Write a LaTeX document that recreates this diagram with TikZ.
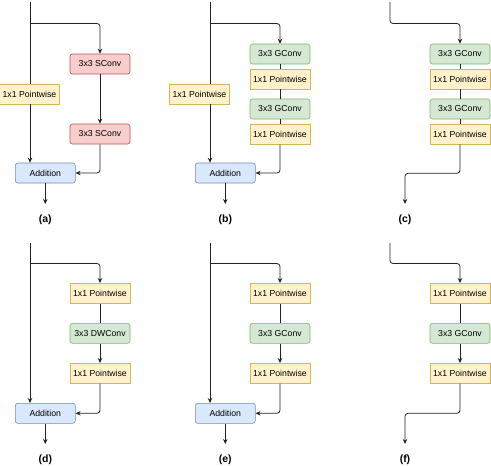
\documentclass[tikz,border=0pt]{standalone}
\usepackage{fontspec}
\setmainfont{Liberation Sans}
\usetikzlibrary{arrows.meta}
\definecolor{ylwF}{HTML}{FFF2CC}\definecolor{ylwD}{HTML}{D6B656}
\definecolor{redF}{HTML}{F8CECC}\definecolor{redD}{HTML}{B85450}
\definecolor{grnF}{HTML}{D5E8D4}\definecolor{grnD}{HTML}{82B366}
\definecolor{bluF}{HTML}{DAE8FC}\definecolor{bluD}{HTML}{6C8EBF}
\definecolor{lineC}{HTML}{222222}
\tikzset{
  blk/.style={minimum width=60pt,minimum height=20pt,inner sep=0pt,font=\fontsize{8.7}{10}\selectfont,line width=0.6pt},
  pw/.style={blk,fill=ylwF,draw=ylwD},
  sc/.style={blk,fill=redF,draw=redD,rounded corners=2.5pt},
  gc/.style={blk,fill=grnF,draw=grnD,rounded corners=2.5pt},
  ad/.style={blk,fill=bluF,draw=bluD,rounded corners=2.5pt},
  lbl/.style={font=\bfseries\fontsize{10.5}{12}\selectfont,inner sep=0pt},
  conn/.style={draw=lineC,line width=0.8pt,rounded corners=3pt},
  arr/.style={conn,-{Stealth[length=5pt,width=4.5pt]}},
}
\begin{document}
\begin{tikzpicture}[x=1pt,y=-1pt]
\useasboundingbox (0,0) rectangle (491,466);
% ---------- (a) ----------
\coordinate (aTop) at (30,2);
\coordinate (aSplit) at (30,23.5);
\node[pw] (aLP) at (29.5,94) {1x1 Pointwise};
\node[sc] (aS1) at (100,64) {3x3 SConv};
\node[sc] (aS2) at (100,134) {3x3 SConv};
\node[ad] (aAdd) at (45.3,173) {Addition};
\coordinate (aOut) at (45.3,204);
\draw[conn] (aTop) -- (aLP.north -| aTop);
\draw[arr] (aLP.south -| aTop) -- (aAdd.north -| aTop);
\draw[arr] (aSplit) -| (aS1.north);
\draw[arr] (aS1) -- (aS2);
\draw[arr] (aS2.south) |- (aAdd.east);
\draw[arr] (aAdd) -- (aOut);
\node[lbl] (la) at (45.3,220) {(a)};
% ---------- (b) ----------
\coordinate (bTop) at (210,2);
\coordinate (bSplit) at (210,23.5);
\node[pw] (bLP) at (199.5,94) {1x1 Pointwise};
\node[gc] (bG1) at (280,54) {3x3 GConv};
\node[pw] (bP1) at (280,79) {1x1 Pointwise};
\node[gc] (bG2) at (280,109) {3x3 GConv};
\node[pw] (bP2) at (280,134) {1x1 Pointwise};
\node[ad] (bAdd) at (225.3,173) {Addition};
\coordinate (bOut) at (225.3,204);
\draw[conn] (bTop) -- (bLP.north -| bTop);
\draw[arr] (bLP.south -| bTop) -- (bAdd.north -| bTop);
\draw[arr] (bSplit) -| (bG1.north);
\draw[conn] (bG1) -- (bP1);
\draw[conn] (bP1) -- (bG2);
\draw[conn] (bG2) -- (bP2);
\draw[arr] (bP2.south) |- (bAdd.east);
\draw[arr] (bAdd) -- (bOut);
\node[lbl] (lb) at (225.3,220) {(b)};
% ---------- (c) ----------
\coordinate (cTop) at (390,2);
\node[gc] (cG1) at (460,54) {3x3 GConv};
\node[pw] (cP1) at (460,79) {1x1 Pointwise};
\node[gc] (cG2) at (460,109) {3x3 GConv};
\node[pw] (cP2) at (460,134) {1x1 Pointwise};
\coordinate (cOut) at (405,204);
\draw[arr] (cTop) |- (420,23.5) -| (cG1.north);
\draw[conn] (cG1) -- (cP1);
\draw[conn] (cP1) -- (cG2);
\draw[conn] (cG2) -- (cP2);
\draw[arr] (cP2.south) |- (430,173.3) -| (cOut);
\node[lbl] (lc) at (405,220) {(c)};
% ---------- (d) ----------
\coordinate (dTop) at (30,243);
\coordinate (dSplit) at (30,263.5);
\node[pw] (dP1) at (100,293.3) {1x1 Pointwise};
\node[gc] (dG) at (100,333.3) {3x3 DWConv};
\node[pw] (dP2) at (100,373.3) {1x1 Pointwise};
\node[ad] (dAdd) at (45.3,413.3) {Addition};
\coordinate (dOut) at (45.3,444);
\draw[arr] (dTop) -- (dAdd.north -| dTop);
\draw[arr] (dSplit) -| (dP1.north);
\draw[conn] (dP1) -- (dG);
\draw[arr] (dG) -- (dP2);
\draw[arr] (dP2.south) |- (dAdd.east);
\draw[arr] (dAdd) -- (dOut);
\node[lbl] (ld) at (45.3,460) {(d)};
% ---------- (e) ----------
\coordinate (eTop) at (210,243);
\coordinate (eSplit) at (210,263.5);
\node[pw] (eP1) at (280,293.3) {1x1 Pointwise};
\node[gc] (eG) at (280,333.3) {3x3 GConv};
\node[pw] (eP2) at (280,373.3) {1x1 Pointwise};
\node[ad] (eAdd) at (225.3,413.3) {Addition};
\coordinate (eOut) at (225.3,444);
\draw[arr] (eTop) -- (eAdd.north -| eTop);
\draw[arr] (eSplit) -| (eP1.north);
\draw[conn] (eP1) -- (eG);
\draw[arr] (eG) -- (eP2);
\draw[arr] (eP2.south) |- (eAdd.east);
\draw[arr] (eAdd) -- (eOut);
\node[lbl] (le) at (225.3,460) {(e)};
% ---------- (f) ----------
\coordinate (fTop) at (390,243);
\node[pw] (fP1) at (460,293.3) {1x1 Pointwise};
\node[gc] (fG) at (460,333.3) {3x3 GConv};
\node[pw] (fP2) at (460,373.3) {1x1 Pointwise};
\coordinate (fOut) at (405,444);
\draw[arr] (fTop) |- (420,263.5) -| (fP1.north);
\draw[conn] (fP1) -- (fG);
\draw[arr] (fG) -- (fP2);
\draw[arr] (fP2.south) |- (430,413.3) -| (fOut);
\node[lbl] (lf) at (405,460) {(f)};
\end{tikzpicture}
\end{document}
